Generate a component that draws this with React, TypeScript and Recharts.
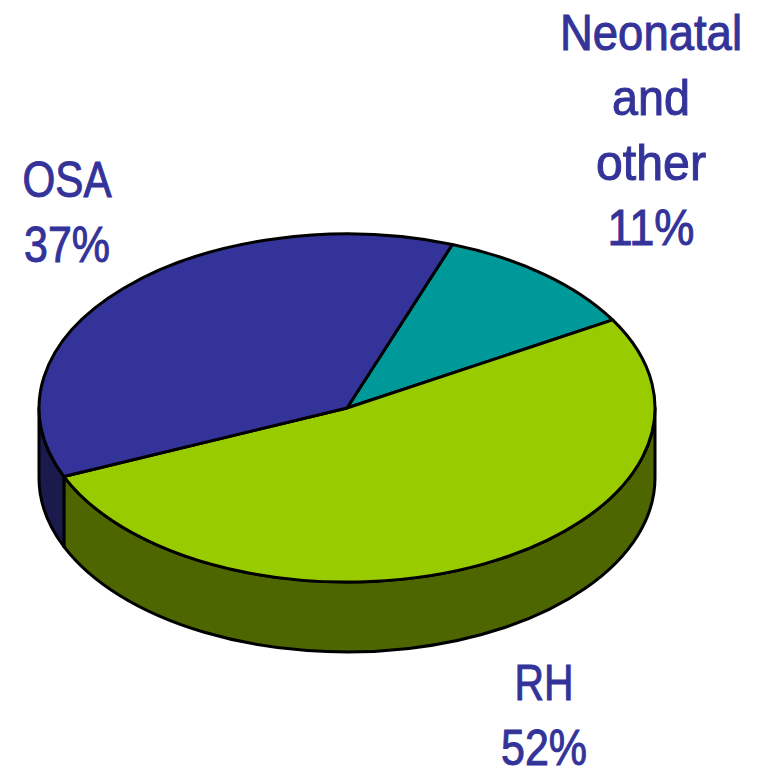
import { PieChart, Pie, Cell } from 'recharts';

const names = ['Neonatal and other', 'RH', 'OSA'];
const values = [11, 52, 37];
const topColors = ['#009999', '#99cc00', '#333399'];
const sideColors = ['#004d4d', '#4d6600', '#1a1a4d'];
const labelLines = [
  ['Neonatal', 'and', 'other', '11%'],
  ['RH', '52%'],
  ['OSA', '37%'],
];
const labelWidths = [
  [182, 78, 110, 87],
  [59, 86],
  [89, 86],
];
const labelSpots = [
  { x: 651, y: 50 },
  { x: 544, y: 700 },
  { x: 67, y: 197 },
];

const data = names.map((name, i) => ({ name, value: values[i], index: i }));

const CX = 347;
const CY = 408;
const RX = 308;
const SQUASH = 0.565;
const DEPTH = 70;
const FIRST_ANGLE = 70;

const rad = (deg: number) => (deg * Math.PI) / 180;

function point(cx: number, cy: number, r: number, deg: number) {
  return {
    x: cx + r * Math.cos(rad(deg)),
    y: cy - r * SQUASH * Math.sin(rad(deg)),
  };
}

// top face of a slice, squashed to an ellipse
function TopSlice(props: any) {
  const { cx, cy, outerRadius: r, startAngle, endAngle, fill } = props;
  const a = point(cx, cy, r, startAngle);
  const b = point(cx, cy, r, endAngle);
  const large = Math.abs(startAngle - endAngle) > 180 ? 1 : 0;
  const d = `M${cx},${cy}L${a.x},${a.y}A${r},${r * SQUASH} 0 ${large} 1 ${b.x},${b.y}Z`;
  return <path d={d} fill={fill} stroke="#000" strokeWidth={3} strokeLinejoin="round" />;
}

// outer wall of a slice, only the part on the front half of the ellipse
function SideSlice(props: any) {
  const { cx, cy, outerRadius: r, startAngle, endAngle, fill } = props;
  const from = Math.min(startAngle, 0);
  const to = Math.max(endAngle, -180);
  if (from <= to) return <g />;
  const a = point(cx, cy, r, from);
  const b = point(cx, cy, r, to);
  const ry = r * SQUASH;
  const d =
    `M${a.x},${a.y}A${r},${ry} 0 0 1 ${b.x},${b.y}` +
    `L${b.x},${b.y + DEPTH}A${r},${ry} 0 0 0 ${a.x},${a.y + DEPTH}Z`;
  return <path d={d} fill={fill} stroke="#000" strokeWidth={3} strokeLinejoin="round" />;
}

function SliceLabel(props: any) {
  const i = props.index;
  const spot = labelSpots[i];
  return (
    <g>
      {labelLines[i].map((line, k) => (
        <text
          key={line}
          x={spot.x}
          y={spot.y + k * 65}
          textAnchor="middle"
          textLength={labelWidths[i][k]}
          lengthAdjust="spacingAndGlyphs"
          fontFamily="Liberation Sans"
          fontSize={50}
          fill="#333399"
          stroke="#333399"
          strokeWidth={1}
        >
          {line}
        </text>
      ))}
    </g>
  );
}

export default function App() {
  return (
    <div style={{ position: 'absolute', left: 0, top: 0, width: 758, height: 767, overflow: 'hidden' }}>
      <PieChart width={758} height={767} margin={{ top: 0, right: 0, bottom: 0, left: 0 }}>
        <Pie
          data={data}
          dataKey="value"
          cx={CX}
          cy={CY}
          outerRadius={RX}
          startAngle={FIRST_ANGLE}
          endAngle={FIRST_ANGLE - 360}
          paddingAngle={0}
          shape={SideSlice}
          stroke="none"
          isAnimationActive={false}
        >
          {data.map((d) => (
            <Cell key={d.name} fill={sideColors[d.index]} />
          ))}
        </Pie>
        <Pie
          data={data}
          dataKey="value"
          cx={CX}
          cy={CY}
          outerRadius={RX}
          startAngle={FIRST_ANGLE}
          endAngle={FIRST_ANGLE - 360}
          paddingAngle={0}
          shape={TopSlice}
          label={SliceLabel}
          labelLine={false}
          isAnimationActive={false}
        >
          {data.map((d) => (
            <Cell key={d.name} fill={topColors[d.index]} />
          ))}
        </Pie>
      </PieChart>
    </div>
  );
}
